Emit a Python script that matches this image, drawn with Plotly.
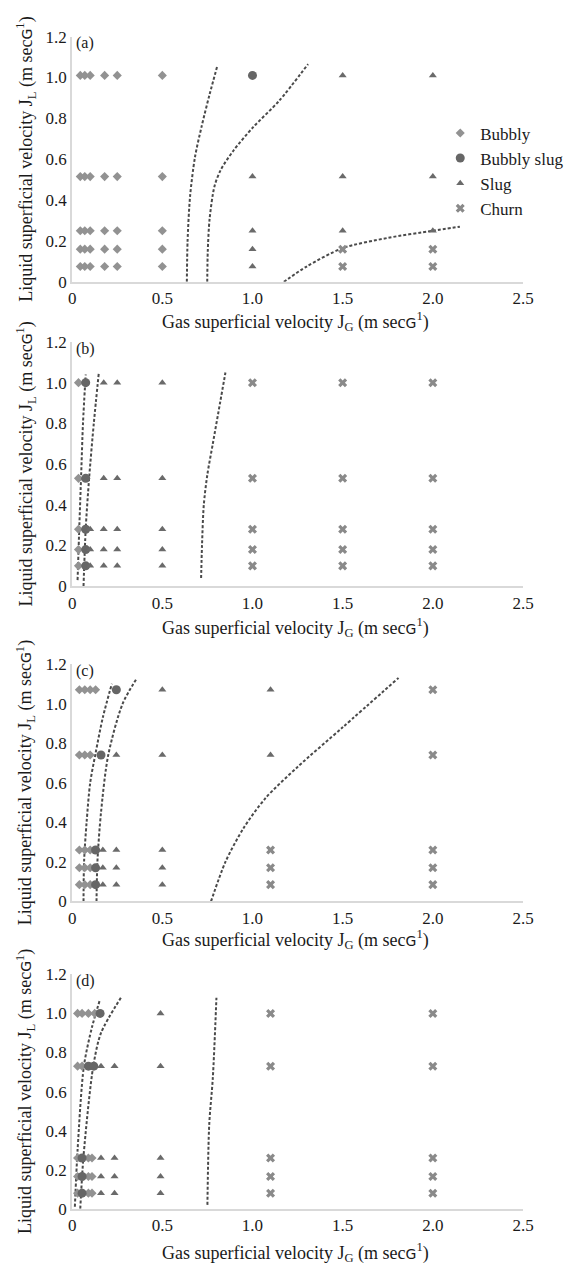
import plotly.graph_objects as go

W, H = 571, 1270

# ---------------- Panel (a) ----------------
a_bubbly_x = [0.045, 0.07, 0.1, 0.18, 0.25, 0.5,
              0.045, 0.07, 0.1, 0.18, 0.25, 0.5,
              0.045, 0.07, 0.1, 0.18, 0.25, 0.5,
              0.045, 0.07, 0.1, 0.18, 0.25, 0.5,
              0.045, 0.07, 0.1, 0.18, 0.25, 0.5]
a_bubbly_y = [1.01, 1.01, 1.01, 1.01, 1.01, 1.01,
              0.515, 0.515, 0.515, 0.515, 0.515, 0.515,
              0.25, 0.25, 0.25, 0.25, 0.25, 0.25,
              0.16, 0.16, 0.16, 0.16, 0.16, 0.16,
              0.075, 0.075, 0.075, 0.075, 0.075, 0.075]
a_bslug_x = [1.0]
a_bslug_y = [1.01]
a_slug_x = [1.0, 1.0, 1.0, 1.0, 1.5, 1.5, 1.5, 2.0, 2.0, 2.0]
a_slug_y = [0.515, 0.25, 0.16, 0.075, 1.01, 0.515, 0.25, 1.01, 0.515, 0.25]
a_churn_x = [1.5, 1.5, 2.0, 2.0]
a_churn_y = [0.16, 0.075, 0.16, 0.075]
a_line1_x = [0.636, 0.64, 0.654, 0.681, 0.717, 0.762, 0.806]
a_line1_y = [0.0, 0.2, 0.42, 0.61, 0.757, 0.917, 1.06]
a_line2_x = [0.749, 0.752, 0.762, 0.789, 0.824, 0.896, 1.004, 1.147, 1.308]
a_line2_y = [0.0, 0.15, 0.307, 0.467, 0.548, 0.644, 0.757, 0.885, 1.065]
a_line3_x = [1.174, 1.3, 1.5, 1.75, 2.0, 2.15]
a_line3_y = [0.0, 0.075, 0.165, 0.215, 0.25, 0.27]

# ---------------- Panel (b) ----------------
b_bubbly_x = [0.035, 0.035, 0.035, 0.035, 0.035]
b_bubbly_y = [1.0, 0.53, 0.28, 0.18, 0.1]
b_bslug_x = [0.075, 0.075, 0.075, 0.075, 0.075]
b_bslug_y = [1.0, 0.53, 0.28, 0.18, 0.1]
b_slug_x = [0.175, 0.25, 0.5, 0.175, 0.25, 0.5, 0.1, 0.175, 0.25, 0.5,
            0.1, 0.175, 0.25, 0.5, 0.1, 0.175, 0.25, 0.5]
b_slug_y = [1.0, 1.0, 1.0, 0.53, 0.53, 0.53, 0.28, 0.28, 0.28, 0.28,
            0.18, 0.18, 0.18, 0.18, 0.1, 0.1, 0.1, 0.1]
b_churn_x = [1.0, 1.5, 2.0, 1.0, 1.5, 2.0, 1.0, 1.5, 2.0, 1.0, 1.5, 2.0, 1.0, 1.5, 2.0]
b_churn_y = [1.0, 1.0, 1.0, 0.53, 0.53, 0.53, 0.28, 0.28, 0.28, 0.18, 0.18, 0.18, 0.1, 0.1, 0.1]
b_line1_x = [0.03, 0.04, 0.05, 0.06, 0.075]
b_line1_y = [0.03, 0.3, 0.55, 0.8, 1.04]
b_line2_x = [0.063, 0.075, 0.094, 0.12, 0.148]
b_line2_y = [0.0, 0.28, 0.53, 0.8, 1.05]
b_line3_x = [0.715, 0.72, 0.73, 0.75, 0.78, 0.82, 0.85]
b_line3_y = [0.04, 0.2, 0.4, 0.55, 0.7, 0.9, 1.05]

# ---------------- Panel (c) ----------------
c_bubbly_x = [0.04, 0.07, 0.1, 0.13, 0.04, 0.07, 0.1,
              0.04, 0.07, 0.1, 0.04, 0.07, 0.1, 0.04, 0.07, 0.1]
c_bubbly_y = [1.07, 1.07, 1.07, 1.07, 0.74, 0.74, 0.74,
              0.26, 0.26, 0.26, 0.17, 0.17, 0.17, 0.085, 0.085, 0.085]
c_bslug_x = [0.245, 0.16, 0.13, 0.13, 0.13]
c_bslug_y = [1.07, 0.74, 0.26, 0.17, 0.085]
c_slug_x = [0.5, 1.1, 0.245, 0.5, 1.1, 0.17, 0.245, 0.5, 0.17, 0.245, 0.5, 0.17, 0.245, 0.5]
c_slug_y = [1.07, 1.07, 0.74, 0.74, 0.74, 0.26, 0.26, 0.26, 0.17, 0.17, 0.17, 0.085, 0.085, 0.085]
c_churn_x = [2.0, 2.0, 1.1, 2.0, 1.1, 2.0, 1.1, 2.0]
c_churn_y = [1.07, 0.74, 0.26, 0.26, 0.17, 0.17, 0.085, 0.085]
c_line1_x = [0.063, 0.066, 0.08, 0.1, 0.13, 0.17, 0.22]
c_line1_y = [0.0, 0.2, 0.4, 0.6, 0.75, 0.93, 1.1]
c_line2_x = [0.135, 0.14, 0.16, 0.2, 0.28, 0.36]
c_line2_y = [0.0, 0.2, 0.45, 0.74, 1.0, 1.13]
c_line3_x = [0.77, 0.85, 0.95, 1.07, 1.25, 1.5, 1.81]
c_line3_y = [0.0, 0.2, 0.37, 0.52, 0.68, 0.88, 1.13]

# ---------------- Panel (d) ----------------
d_bubbly_x = [0.03, 0.055, 0.09, 0.125, 0.03, 0.055,
              0.03, 0.09, 0.11, 0.03, 0.09, 0.11, 0.03, 0.09, 0.11]
d_bubbly_y = [1.0, 1.0, 1.0, 1.0, 0.73, 0.73,
              0.26, 0.26, 0.26, 0.165, 0.165, 0.165, 0.08, 0.08, 0.08]
d_bslug_x = [0.155, 0.09, 0.12, 0.055, 0.055, 0.055]
d_bslug_y = [1.0, 0.73, 0.73, 0.26, 0.165, 0.08]
d_slug_x = [0.49, 0.16, 0.235, 0.49, 0.16, 0.235, 0.49, 0.16, 0.235, 0.49, 0.16, 0.235, 0.49]
d_slug_y = [1.0, 0.73, 0.73, 0.73, 0.26, 0.26, 0.26, 0.165, 0.165, 0.165, 0.08, 0.08, 0.08]
d_churn_x = [1.1, 2.0, 1.1, 2.0, 1.1, 2.0, 1.1, 2.0, 1.1, 2.0]
d_churn_y = [1.0, 1.0, 0.73, 0.73, 0.26, 0.26, 0.165, 0.165, 0.08, 0.08]
d_line1_x = [0.015, 0.03, 0.065, 0.11, 0.154]
d_line1_y = [0.01, 0.3, 0.73, 0.93, 1.07]
d_line2_x = [0.045, 0.063, 0.117, 0.16, 0.27]
d_line2_y = [0.0, 0.27, 0.73, 0.9, 1.08]
d_line3_x = [0.75, 0.76, 0.78, 0.8]
d_line3_y = [0.02, 0.43, 0.67, 1.08]

# ---------------- axes / labels ----------------
x_tickvals = [0, 0.5, 1.0, 1.5, 2.0, 2.5]
x_ticktext = ["0", "0.5", "1.0", "1.5", "2.0", "2.5"]
y_tickvals = [0, 0.2, 0.4, 0.6, 0.8, 1.0, 1.2]
y_ticktext = ["0", "0.2", "0.4", "0.6", "0.8", "1.0", "1.2"]
panel_labels = ["(a)", "(b)", "(c)", "(d)"]
regime_names = ["Bubbly", "Bubbly slug", "Slug", "Churn"]

SERIF = "Liberation Serif, Times New Roman, serif"
GSPAN = "<span style='font-family:DejaVu Sans;font-size:14px'>G</span>"
x_title = "Gas superficial velocity J<sub>G</sub> (m sec" + GSPAN + "<sup>1</sup>)"
y_title = "Liquid superficial velocity J<sub>L</sub> (m sec" + GSPAN + "<sup>1</sup>)"

# pixel layout (top, bottom) of each plot area
panel_px = [(28, 277), (338, 586), (665, 906), (980, 1218)]
xtitle_px = [317, 628, 945, 1262]
X0, X1 = 70, 533

panels = [
    (a_bubbly_x, a_bubbly_y, a_bslug_x, a_bslug_y, a_slug_x, a_slug_y, a_churn_x, a_churn_y,
     [(a_line1_x, a_line1_y), (a_line2_x, a_line2_y), (a_line3_x, a_line3_y)]),
    (b_bubbly_x, b_bubbly_y, b_bslug_x, b_bslug_y, b_slug_x, b_slug_y, b_churn_x, b_churn_y,
     [(b_line1_x, b_line1_y), (b_line2_x, b_line2_y), (b_line3_x, b_line3_y)]),
    (c_bubbly_x, c_bubbly_y, c_bslug_x, c_bslug_y, c_slug_x, c_slug_y, c_churn_x, c_churn_y,
     [(c_line1_x, c_line1_y), (c_line2_x, c_line2_y), (c_line3_x, c_line3_y)]),
    (d_bubbly_x, d_bubbly_y, d_bslug_x, d_bslug_y, d_slug_x, d_slug_y, d_churn_x, d_churn_y,
     [(d_line1_x, d_line1_y), (d_line2_x, d_line2_y), (d_line3_x, d_line3_y)]),
]

marker_styles = [
    dict(symbol="diamond", size=7, color="#929292"),
    dict(symbol="circle", size=9, color="#666666"),
    dict(symbol="triangle-up", size=7, color="#6a6a6a"),
    dict(symbol="x", size=8, color="#8a8a8a"),
]

fig = go.Figure()
annotations = []
layout_axes = {}

for i, p in enumerate(panels):
    sfx = "" if i == 0 else str(i + 1)
    xref, yref = "x" + sfx, "y" + sfx
    top, bot = panel_px[i]
    # dashed boundary lines
    for lx, ly in p[8]:
        fig.add_trace(go.Scatter(x=lx, y=ly, mode="lines", xaxis=xref, yaxis=yref,
                                 line=dict(color="#4a4a4a", width=2, dash="3px,2px",
                                           shape="spline", smoothing=0.8),
                                 showlegend=False, hoverinfo="skip"))
    for k in range(4):
        fig.add_trace(go.Scatter(x=p[2 * k], y=p[2 * k + 1], mode="markers",
                                 xaxis=xref, yaxis=yref, name=regime_names[k],
                                 marker=dict(**marker_styles[k], line=dict(width=0)),
                                 showlegend=(i == 0), legendgroup=regime_names[k]))
    layout_axes["xaxis" + sfx] = dict(
        domain=[X0 / W, X1 / W], range=[0, 2.5], anchor=yref,
        tickvals=x_tickvals, ticktext=x_ticktext, showgrid=False, zeroline=False,
        showline=True, linecolor="#d9d9d9", linewidth=2, ticks="",
        tickfont=dict(family=SERIF, size=17, color="#1a1a1a"))
    layout_axes["yaxis" + sfx] = dict(
        domain=[1 - bot / H, 1 - top / H], range=[0, 1.2], anchor=xref,
        tickvals=y_tickvals, ticktext=y_ticktext, showgrid=False, zeroline=False,
        showline=True, linecolor="#d9d9d9", linewidth=2, ticks="",
        tickfont=dict(family=SERIF, size=17, color="#1a1a1a"))
    annotations.append(dict(text=panel_labels[i], xref="paper", yref="paper",
                            x=(X0 + 2) / W, y=1 - (top + 7) / H, xanchor="left", yanchor="middle",
                            showarrow=False, font=dict(family=SERIF, size=16, color="#1a1a1a")))
    annotations.append(dict(text=x_title, xref="paper", yref="paper",
                            x=299 / W, y=1 - xtitle_px[i] / H, xanchor="center", yanchor="middle",
                            showarrow=False, font=dict(family=SERIF, size=18, color="#1a1a1a")))
    annotations.append(dict(text=y_title, xref="paper", yref="paper", textangle=-90,
                            x=22 / W, y=1 - ((top + bot) / 2) / H, xanchor="center", yanchor="middle",
                            showarrow=False, font=dict(family=SERIF, size=18, color="#1a1a1a")))

fig.update_layout(
    width=W, height=H, margin=dict(l=0, r=0, t=0, b=0),
    paper_bgcolor="white", plot_bgcolor="white",
    annotations=annotations,
    legend=dict(x=448 / W, y=1 - 108 / H, xanchor="left", yanchor="top",
                font=dict(family=SERIF, size=17, color="#1a1a1a"),
                bgcolor="rgba(0,0,0,0)", tracegroupgap=0, itemwidth=30),
    **layout_axes,
)

fig.write_html("out.html")
